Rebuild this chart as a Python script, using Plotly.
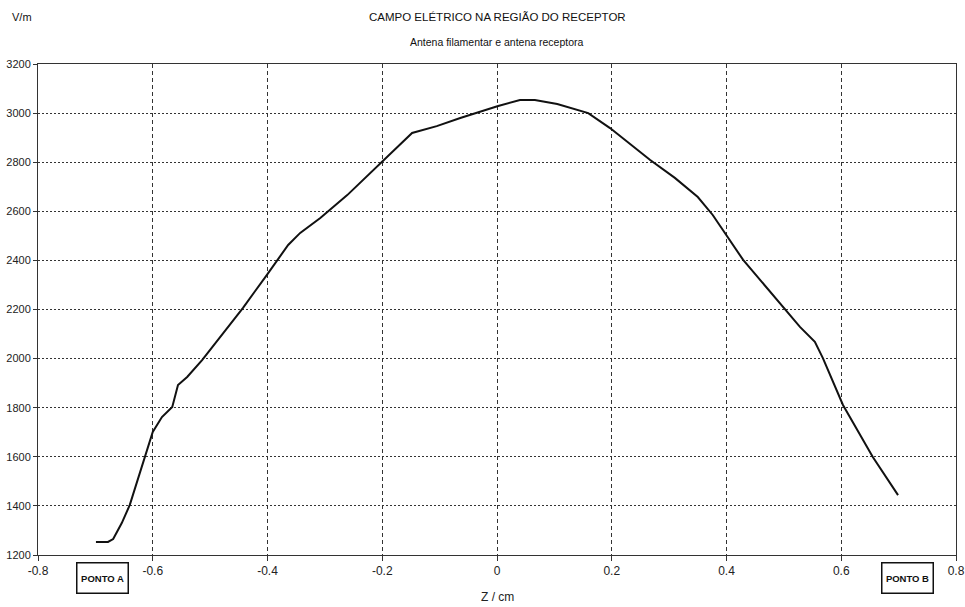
import plotly.graph_objects as go

z_cm = [-0.699, -0.678, -0.669, -0.654, -0.640, -0.614, -0.600, -0.584, -0.566, -0.556,
        -0.540, -0.514, -0.500, -0.443, -0.401, -0.364, -0.343, -0.308, -0.261, -0.200,
        -0.148, -0.105, -0.064, 0.002, 0.023, 0.040, 0.066, 0.105, 0.159, 0.197,
        0.267, 0.310, 0.350, 0.376, 0.429, 0.498, 0.528, 0.554, 0.568, 0.603,
        0.655, 0.699]
e_vm = [1253, 1253, 1265, 1330, 1404, 1595, 1701, 1762, 1803, 1892,
        1925, 1994, 2035, 2206, 2341, 2463, 2512, 2573, 2666, 2801,
        2919, 2947, 2980, 3029, 3041, 3053, 3053, 3037, 3000, 2939,
        2809, 2736, 2658, 2585, 2402, 2210, 2129, 2068, 2002, 1811,
        1599, 1444]

x_ticks = [-0.8, -0.6, -0.4, -0.2, 0, 0.2, 0.4, 0.6, 0.8]
x_tick_labels = ["-0.8", "-0.6", "-0.4", "-0.2", "0", "0.2", "0.4", "0.6", "0.8"]
y_ticks = [1200, 1400, 1600, 1800, 2000, 2200, 2400, 2600, 2800, 3000, 3200]

title_text = "CAMPO ELÉTRICO NA REGIÃO DO RECEPTOR"
subtitle_text = "Antena filamentar e antena receptora"
y_unit = "V/m"
x_title = "Z / cm"
point_a = "PONTO A"
point_b = "PONTO B"

FONT = "Liberation Sans Narrow, Arial Narrow, Liberation Sans, sans-serif"

fig = go.Figure()
fig.add_trace(go.Scatter(x=z_cm, y=e_vm, mode="lines",
                         line=dict(color="#111111", width=2), showlegend=False,
                         hoverinfo="x+y"))

fig.update_layout(
    width=965, height=607,
    margin=dict(l=38, r=9, t=64, b=52, autoexpand=False),
    paper_bgcolor="white", plot_bgcolor="white",
    font=dict(family=FONT, size=12, color="#222222"),
    showlegend=False,
)
fig.update_xaxes(
    range=[-0.8, 0.8], tickvals=x_ticks, ticktext=x_tick_labels, automargin=False,
    showgrid=True, gridcolor="#333333", gridwidth=1, griddash="4px,3px",
    showline=True, linecolor="#333333", linewidth=1, mirror=True,
    ticks="outside", ticklen=5, tickcolor="#333333", zeroline=False,
    tickfont=dict(family=FONT, size=12, color="#222222"),
)
fig.update_yaxes(
    range=[1200, 3200], tickvals=y_ticks, automargin=False,
    showgrid=True, gridcolor="#333333", gridwidth=1, griddash="2px,2px",
    showline=True, linecolor="#333333", linewidth=1, mirror=True,
    ticks="outside", ticklen=4, tickcolor="#333333", zeroline=False,
    tickfont=dict(family=FONT, size=11, color="#222222"),
)

fig.add_annotation(text=title_text, xref="paper", yref="paper", x=0.5, y=1,
                   yshift=47, xanchor="center", yanchor="middle", showarrow=False,
                   font=dict(family=FONT, size=11.5, color="#111111"))
fig.add_annotation(text=subtitle_text, xref="paper", yref="paper", x=0.5, y=1,
                   yshift=22, xanchor="center", yanchor="middle", showarrow=False,
                   font=dict(family=FONT, size=10.5, color="#111111"))
fig.add_annotation(text=y_unit, xref="paper", yref="paper", x=0, y=1,
                   xshift=-16, yshift=47, xanchor="center", yanchor="middle", showarrow=False,
                   font=dict(family=FONT, size=11, color="#111111"))
fig.add_annotation(text=x_title, xref="paper", yref="paper", x=0.5, y=0,
                   yshift=-42, xanchor="center", yanchor="middle", showarrow=False,
                   font=dict(family=FONT, size=12, color="#222222"))
for label, xpos in [(point_a, -0.687), (point_b, 0.716)]:
    fig.add_annotation(text="<b>" + label + "</b>", xref="x", yref="paper", x=xpos, y=0,
                       yshift=-23, xanchor="center", yanchor="middle", showarrow=False,
                       width=48, height=27, bordercolor="#111111", borderwidth=1.5,
                       borderpad=1, bgcolor="white",
                       font=dict(family=FONT, size=9.5, color="#111111"))

fig.write_html("out.html", config={"displayModeBar": False},
               post_script="document.body.style.margin='0';")
